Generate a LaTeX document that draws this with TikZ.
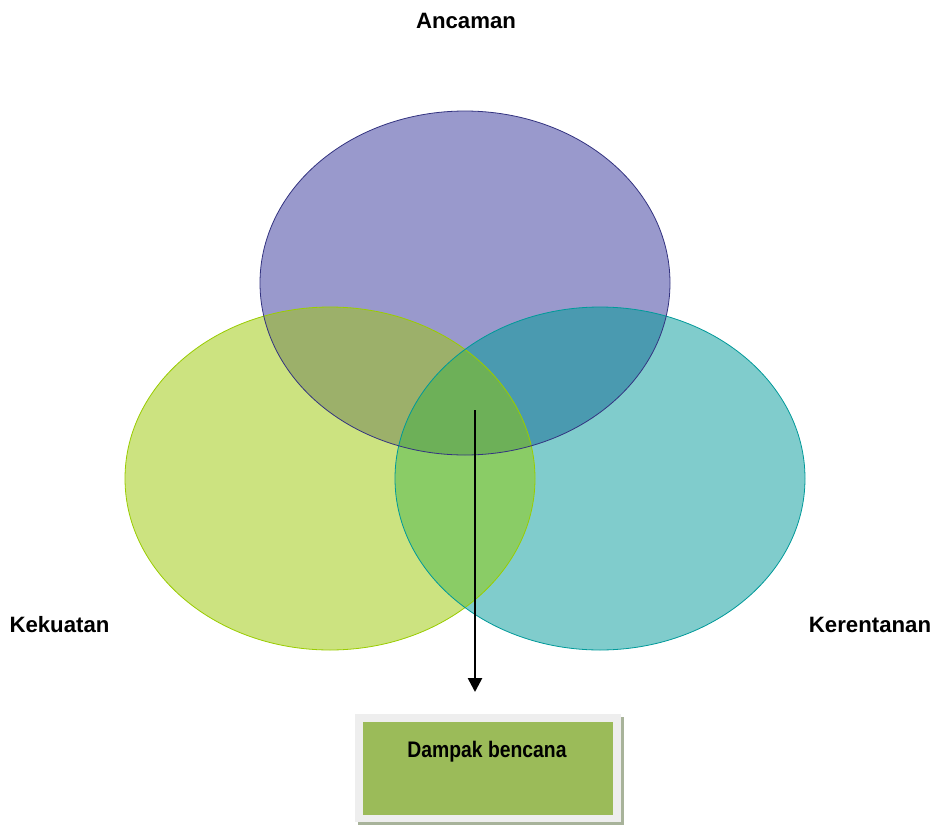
\documentclass[tikz,border=0pt]{standalone}
\usepackage{fontspec}
\setmainfont{Liberation Sans}
\newfontfamily\narrowfont{Liberation Sans}[FakeStretch=0.86]
\usetikzlibrary{arrows.meta}

\definecolor{topfill}{HTML}{9999CC}
\definecolor{topline}{HTML}{333380}
\definecolor{leftfill}{HTML}{CCE380}
\definecolor{leftline}{HTML}{99CC00}
\definecolor{rightfill}{HTML}{80CCCC}
\definecolor{rightline}{HTML}{009999}
\definecolor{tlfill}{HTML}{9CB06A}
\definecolor{trfill}{HTML}{4A9AB0}
\definecolor{lrfill}{HTML}{8ACC66}
\definecolor{allfill}{HTML}{6DB058}
\definecolor{boxgreen}{HTML}{9BBB59}
\definecolor{boxframe}{HTML}{EEEEEE}
\definecolor{boxshadow}{HTML}{A8B39A}

\tikzset{
  label/.style={font=\bfseries\fontsize{22.2}{24}\selectfont, text=black, inner sep=0pt},
  rim/.style={line width=0.8pt},
  flow/.style={line width=2.6pt, -{Triangle[width=14pt,length=14pt]}}
}

\newcommand{\topell}{(465,283) ellipse [x radius=205pt, y radius=172pt]}
\newcommand{\leftell}{(330,478.5) ellipse [x radius=205pt, y radius=171.5pt]}
\newcommand{\rightell}{(600,478.5) ellipse [x radius=205pt, y radius=171.5pt]}

\begin{document}
\begin{tikzpicture}[x=1pt,y=-1pt]
  \useasboundingbox (0,0) rectangle (937,825);

  % single-set areas
  \fill[topfill] \topell;
  \fill[leftfill] \leftell;
  \fill[rightfill] \rightell;

  % pairwise overlaps
  \begin{scope}
    \clip \topell;
    \fill[tlfill] \leftell;
    \fill[trfill] \rightell;
  \end{scope}
  \begin{scope}
    \clip \leftell;
    \fill[lrfill] \rightell;
  \end{scope}

  % common core of all three sets
  \begin{scope}
    \clip \topell;
    \clip \leftell;
    \fill[allfill] \rightell;
  \end{scope}

  % outlines
  \draw[rim, leftline] \leftell;
  \draw[rim, rightline] \rightell;
  \draw[rim, topline] \topell;

  % set labels
  \node[label] (ancaman) at (466,21) {Ancaman};
  \node[label] (kekuatan) at (59.5,625) {Kekuatan};
  \node[label] (kerentanan) at (870,625) {Kerentanan};

  % outcome box with frame and shadow
  \fill[boxshadow] (358,717) rectangle (624,825);
  \fill[boxframe] (355,714) rectangle (621,822);
  \node[fill=boxgreen, minimum width=250pt, minimum height=93pt,
        inner sep=0pt, anchor=north west] (box) at (363,722) {};
  \node[font=\narrowfont\bfseries\fontsize{22.5}{24}\selectfont, anchor=base,
        inner sep=0pt] (boxtext) at (487,757) {Dampak bencana};

  % arrow from the common core down to the outcome
  \coordinate (core) at (475,410);
  \coordinate (tip) at (475,692);
  \draw[flow] (core) -- (tip);
\end{tikzpicture}
\end{document}
